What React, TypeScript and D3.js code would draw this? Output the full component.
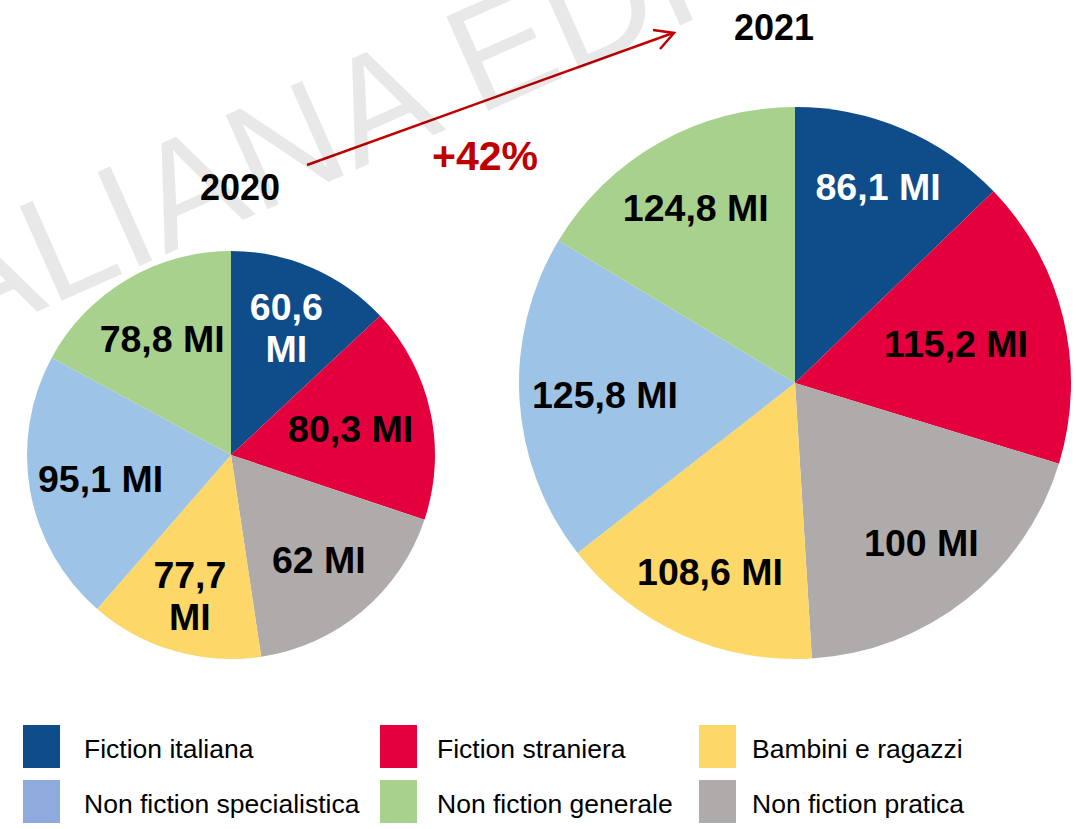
import React from 'react';
import * as d3 from 'd3';

// categories in clockwise order from 12 o'clock
const categories = [
  'Fiction italiana',
  'Fiction straniera',
  'Non fiction pratica',
  'Bambini e ragazzi',
  'Non fiction specialistica',
  'Non fiction generale',
];

// slice sizes as they are drawn in the source (degrees of the circle)
const share2020 = [47, 61.5, 63, 49.5, 77.5, 61.5];
const share2021 = [46, 61, 69.5, 55.5, 69, 59];

// value labels printed in the slices
const labels2020 = ['60,6 MI', '80,3 MI', '62 MI', '77,7 MI', '95,1 MI', '78,8 MI'];
const labels2021 = ['86,1 MI', '115,2 MI', '100 MI', '108,6 MI', '125,8 MI', '124,8 MI'];

const years = ['2020', '2021'];
const growth = '+42%';

const legendRows = [
  ['Fiction italiana', 'Fiction straniera', 'Bambini e ragazzi'],
  ['Non fiction specialistica', 'Non fiction generale', 'Non fiction pratica'],
];

const colors: Record<string, string> = {
  'Fiction italiana': '#0F4C8A',
  'Fiction straniera': '#E3003C',
  'Non fiction pratica': '#AFABAA',
  'Bambini e ragazzi': '#FDD868',
  'Non fiction specialistica': '#9DC3E6',
  'Non fiction generale': '#A9D18E',
};
const legendColors: Record<string, string> = { ...colors, 'Non fiction specialistica': '#8FAADC' };
const whiteText = new Set(['Fiction italiana']);

const FONT = 'Arial, "Liberation Sans", Helvetica, sans-serif';
const W = 1076;
const H = 829;

type PieProps = {
  cx: number;
  cy: number;
  r: number;
  shares: number[];
  labels: string[];
  labelK: number[]; // label distance from centre, as a fraction of the radius
  wrap: number[];
};

const Pie = ({ cx, cy, r, shares, labels, labelK, wrap }: PieProps) => {
  const pie = d3.pie<number>().sort(null).value(d => d);
  const arcs = pie(shares);
  const arc = d3.arc<d3.PieArcDatum<number>>().innerRadius(0).outerRadius(r);

  return (
    <g transform={`translate(${cx},${cy})`}>
      {arcs.map((a, i) => (
        <path key={categories[i]} d={arc(a) || ''} fill={colors[categories[i]]} />
      ))}
      {arcs.map((a, i) => {
        const k = r * labelK[i];
        const [x, y] = d3.arc<d3.PieArcDatum<number>>().innerRadius(k).outerRadius(k).centroid(a);
        const lines = wrap.includes(i) ? labels[i].split(' ') : [labels[i]];
        const lh = 42;
        const y0 = y - ((lines.length - 1) * lh) / 2;
        return (
          <text
            key={'l' + i}
            x={x}
            y={y0}
            textAnchor="middle"
            dominantBaseline="central"
            fontFamily={FONT}
            fontWeight="bold"
            fontSize={37.5}
            fill={whiteText.has(categories[i]) ? '#fff' : '#000'}
          >
            {lines.map((ln, j) => (
              <tspan key={j} x={x} dy={j === 0 ? 0 : lh}>
                {ln}
              </tspan>
            ))}
          </text>
        );
      })}
    </g>
  );
};

export default function App() {
  const legendX = d3.scaleOrdinal<number, number>().domain([0, 1, 2]).range([23, 380, 699]);
  const legendTextX = d3.scaleOrdinal<number, number>().domain([0, 1, 2]).range([84, 437, 752]);
  const legendY = d3.scaleOrdinal<number, number>().domain([0, 1]).range([725, 780]);

  return (
    <svg
      width={W}
      height={H}
      viewBox={`0 0 ${W} ${H}`}
      style={{ position: 'absolute', left: 0, top: 0, background: '#fff' }}
    >
      <rect width={W} height={H} fill="#fff" />

      <Pie
        cx={231}
        cy={455}
        r={204}
        shares={share2020}
        labels={labels2020}
        labelK={[0.68, 0.6, 0.67, 0.72, 0.65, 0.66]}
        wrap={[0, 3]}
      />
      <Pie
        cx={795}
        cy={383}
        r={276}
        shares={share2021}
        labels={labels2021}
        labelK={[0.77, 0.6, 0.74, 0.75, 0.69, 0.73]}
        wrap={[]}
      />

      {/* year titles and growth arrow */}
      <text x={240} y={200} textAnchor="middle" fontFamily={FONT} fontWeight="bold" fontSize={36} fill="#000">
        {years[0]}
      </text>
      <text x={774} y={40} textAnchor="middle" fontFamily={FONT} fontWeight="bold" fontSize={36} fill="#000">
        {years[1]}
      </text>
      <line x1={307} y1={165} x2={673} y2={33} stroke="#C00000" strokeWidth={2.5} />
      <polyline points="653,30 674,33 660,49" fill="none" stroke="#C00000" strokeWidth={2.5} />
      <text x={485} y={170} textAnchor="middle" fontFamily={FONT} fontWeight="bold" fontSize={41} fill="#C00000">
        {growth}
      </text>

      {/* legend */}
      {legendRows.map((row, ri) =>
        row.map((name, ci) => (
          <g key={name}>
            <rect x={legendX(ci)} y={legendY(ri)} width={37} height={43} fill={legendColors[name]} />
            <text x={legendTextX(ci)} y={legendY(ri) + 33} fontFamily={FONT} fontSize={26.5} fill="#000">
              {name}
            </text>
          </g>
        ))
      )}

      {/* watermark */}
      <text
        transform="translate(-31,342) rotate(-24)"
        x={-133}
        y={0}
        fontFamily={FONT}
        fontSize={150}
        fill="#000"
        fillOpacity={0.09}
        style={{ pointerEvents: 'none' }}
      >
        ITALIANA EDITORI
      </text>
    </svg>
  );
}
